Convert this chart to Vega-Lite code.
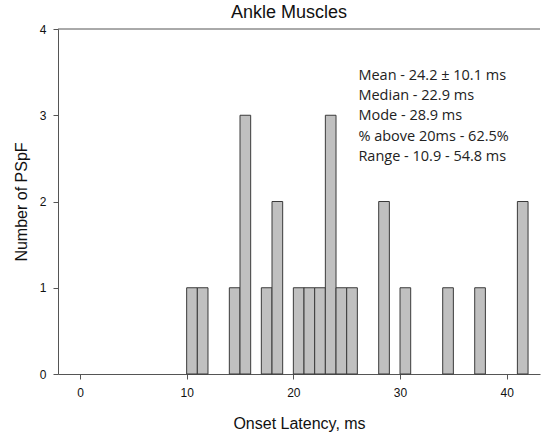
{
  "$schema": "https://vega.github.io/schema/vega-lite/v6.json",
  "width": 482,
  "height": 345,
  "autosize": "none",
  "padding": {"left": 58, "top": 29, "right": 8, "bottom": 59},
  "background": "white",
  "title": {"text": "Ankle Muscles", "font": "Liberation Sans", "fontSize": 18, "fontWeight": "normal", "color": "#111", "anchor": "middle", "dx": -10, "offset": 1},
  "config": {"view": {"stroke": null}},
  "layer": [
    {
      "data": {"values": [
        {"start": 10, "end": 11, "count": 1},
        {"start": 11, "end": 12, "count": 1},
        {"start": 14, "end": 15, "count": 1},
        {"start": 15, "end": 16, "count": 3},
        {"start": 17, "end": 18, "count": 1},
        {"start": 18, "end": 19, "count": 2},
        {"start": 20, "end": 21, "count": 1},
        {"start": 21, "end": 22, "count": 1},
        {"start": 22, "end": 23, "count": 1},
        {"start": 23, "end": 24, "count": 3},
        {"start": 24, "end": 25, "count": 1},
        {"start": 25, "end": 26, "count": 1},
        {"start": 28, "end": 29, "count": 2},
        {"start": 30, "end": 31, "count": 1},
        {"start": 34, "end": 35, "count": 1},
        {"start": 37, "end": 38, "count": 1},
        {"start": 41, "end": 42, "count": 2}
      ]},
      "mark": {"type": "rect", "fill": "#c0c0c0", "stroke": "#3a3a3a", "strokeWidth": 1},
      "encoding": {
        "x": {"field": "start", "type": "quantitative",
              "scale": {"domain": [-2.06, 43.12], "nice": false, "zero": false},
              "axis": {"values": [0, 10, 20, 30, 40], "title": "Onset Latency, ms", "grid": false,
                       "domainColor": "#555", "tickColor": "#555", "tickSize": 5, "labelPadding": 8,
                       "labelFont": "Liberation Sans", "labelFontSize": 12, "labelColor": "#111",
                       "titleFont": "Liberation Sans", "titleFontSize": 16, "titleFontWeight": "normal", "titleColor": "#111", "titlePadding": 17}},
        "x2": {"field": "end"},
        "y": {"field": "count", "type": "quantitative",
              "scale": {"domain": [0, 4], "nice": false},
              "axis": {"values": [0, 1, 2, 3, 4], "title": "Number of PSpF", "grid": false, "format": "d",
                       "domainColor": "#555", "tickColor": "#555", "tickSize": 5, "labelPadding": 7,
                       "labelFont": "Liberation Sans", "labelFontSize": 12, "labelColor": "#111",
                       "titleFont": "Liberation Sans", "titleFontSize": 16, "titleFontWeight": "normal", "titleColor": "#111", "titlePadding": 10}},
        "y2": {"datum": 0}
      }
    },
    {
      "data": {"values": [{}]},
      "mark": {"type": "rule", "color": "#555", "strokeWidth": 1},
      "encoding": {"y": {"datum": 4, "type": "quantitative"}}
    },
    {
      "data": {"values": [{}]},
      "mark": {"type": "text", "align": "left", "baseline": "middle", "font": "Open Sans", "fontSize": 14.5, "lineHeight": 20.2, "color": "#222"},
      "encoding": {
        "x": {"datum": 26.1, "type": "quantitative"},
        "y": {"datum": 3.455, "type": "quantitative"},
        "text": {"value": ["Mean - 24.2 ± 10.1 ms", "Median - 22.9 ms", "Mode - 28.9 ms", "% above 20ms - 62.5%", "Range - 10.9 - 54.8 ms"]}
      }
    }
  ]
}
